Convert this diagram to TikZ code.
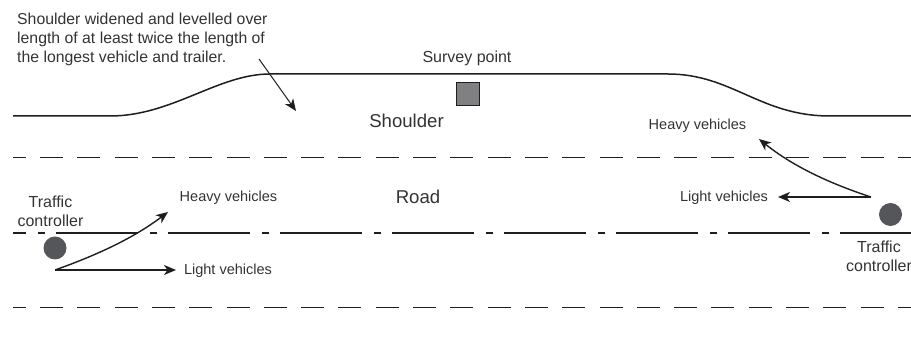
\documentclass[tikz,border=0pt]{standalone}
\usepackage{fontspec}
\setmainfont{Liberation Sans}
\usetikzlibrary{arrows.meta}
\definecolor{ink}{HTML}{1E1E1E}
\definecolor{txt}{HTML}{333333}
\definecolor{disc}{HTML}{55565A}
\definecolor{sq}{HTML}{808083}
\tikzset{
  lbl/.style={text=txt,font=\fontsize{14.5}{19}\selectfont,inner sep=0pt,align=center},
  tall/.style={text=txt,font=\fontsize{16}{19}\selectfont,inner sep=0pt,align=center},
  biglbl/.style={text=txt,font=\fontsize{18.6}{22}\selectfont,inner sep=0pt},
  note/.style={text=txt,font=\fontsize{15.8}{19}\selectfont,inner sep=0pt,align=left,anchor=north west},
  laneedge/.style={ink,line width=.9pt,dash pattern=on 23pt off 14.3pt,dash phase=10.3pt},
  centreline/.style={ink,line width=1.1pt,dash pattern=on 82pt off 11.5pt on 7pt off 11.5pt,dash phase=69pt},
  shoulderline/.style={ink,line width=1.5pt},
  arrowline/.style={ink,line width=1.4pt,-{Stealth[length=12pt,width=10pt,inset=3.5pt]}},
  thin arrow/.style={ink,line width=1pt,-{Stealth[length=12pt,width=10pt,inset=3.5pt]}},
  controller/.style={circle,fill=disc,draw=none,minimum size=23pt,inner sep=0pt},
  surveybox/.style={rectangle,fill=sq,draw=ink,line width=.7pt,minimum size=23pt,inner sep=0pt}
}
\begin{document}
\begin{tikzpicture}[x=1pt,y=-1pt]
\useasboundingbox (0,0) rectangle (911,352);
% coordinates
\coordinate (tl) at (13,157); \coordinate (tr) at (911,157);
\coordinate (cl) at (13,233); \coordinate (cr) at (911,233);
\coordinate (bl) at (13,307); \coordinate (br) at (911,307);
\coordinate (sA) at (13,116); \coordinate (sB) at (110,116);
\coordinate (sC) at (270,74); \coordinate (sD) at (668,74);
\coordinate (sE) at (830,116); \coordinate (sF) at (911,116);
\draw[laneedge] (tl) -- (tr);
\draw[centreline] (cl) -- (cr);
\draw[laneedge] (bl) -- (br);
\draw[shoulderline] (sA) -- (sB) .. controls (172,116) and (218,74) .. (sC) -- (sD)
  .. controls (732,74) and (760,116) .. (sE) -- (sF);
% nodes
\node[surveybox] (survey) at (467.5,93.5) {};
\node[controller] (c1) at (55,248) {};
\node[controller] (c2) at (890.5,214.5) {};
\node[note] (note) at (17,13) {Shoulder widened and levelled over\\length of at least twice the length of\\the longest vehicle and trailer.};
\node[tall] (sp) at (467,58) {Survey point};
\node[biglbl] (sh) at (406.5,120.5) {Shoulder};
\node[biglbl] (rd) at (418,197) {Road};
\node[lbl] (hl) at (228.5,198) {Heavy vehicles};
\node[lbl] (ll) at (228,270.5) {Light vehicles};
\node[lbl] (hr) at (697.5,126) {Heavy vehicles};
\node[lbl] (lr) at (724,198) {Light vehicles};
\node[tall] (tcl) at (50.5,211.5) {Traffic\\controller};
\node[tall] (tcr) at (879,256.5) {Traffic\\controller};
% arrows
\coordinate (aS) at (259,59); \coordinate (aE) at (296,111);
\coordinate (lS) at (55,270); \coordinate (lL) at (176,270); \coordinate (lH) at (168,212);
\coordinate (rS) at (871,197); \coordinate (rL) at (778,197); \coordinate (rH) at (759,139);
\draw[thin arrow] (aS) -- (aE);
\draw[arrowline] (lS) -- (lL);
\draw[arrowline] (lS) .. controls (100,254) and (135,237) .. (lH);
\draw[arrowline] (rS) -- (rL);
\draw[arrowline] (rS) .. controls (825,182) and (790,164) .. (rH);
\end{tikzpicture}
\end{document}
